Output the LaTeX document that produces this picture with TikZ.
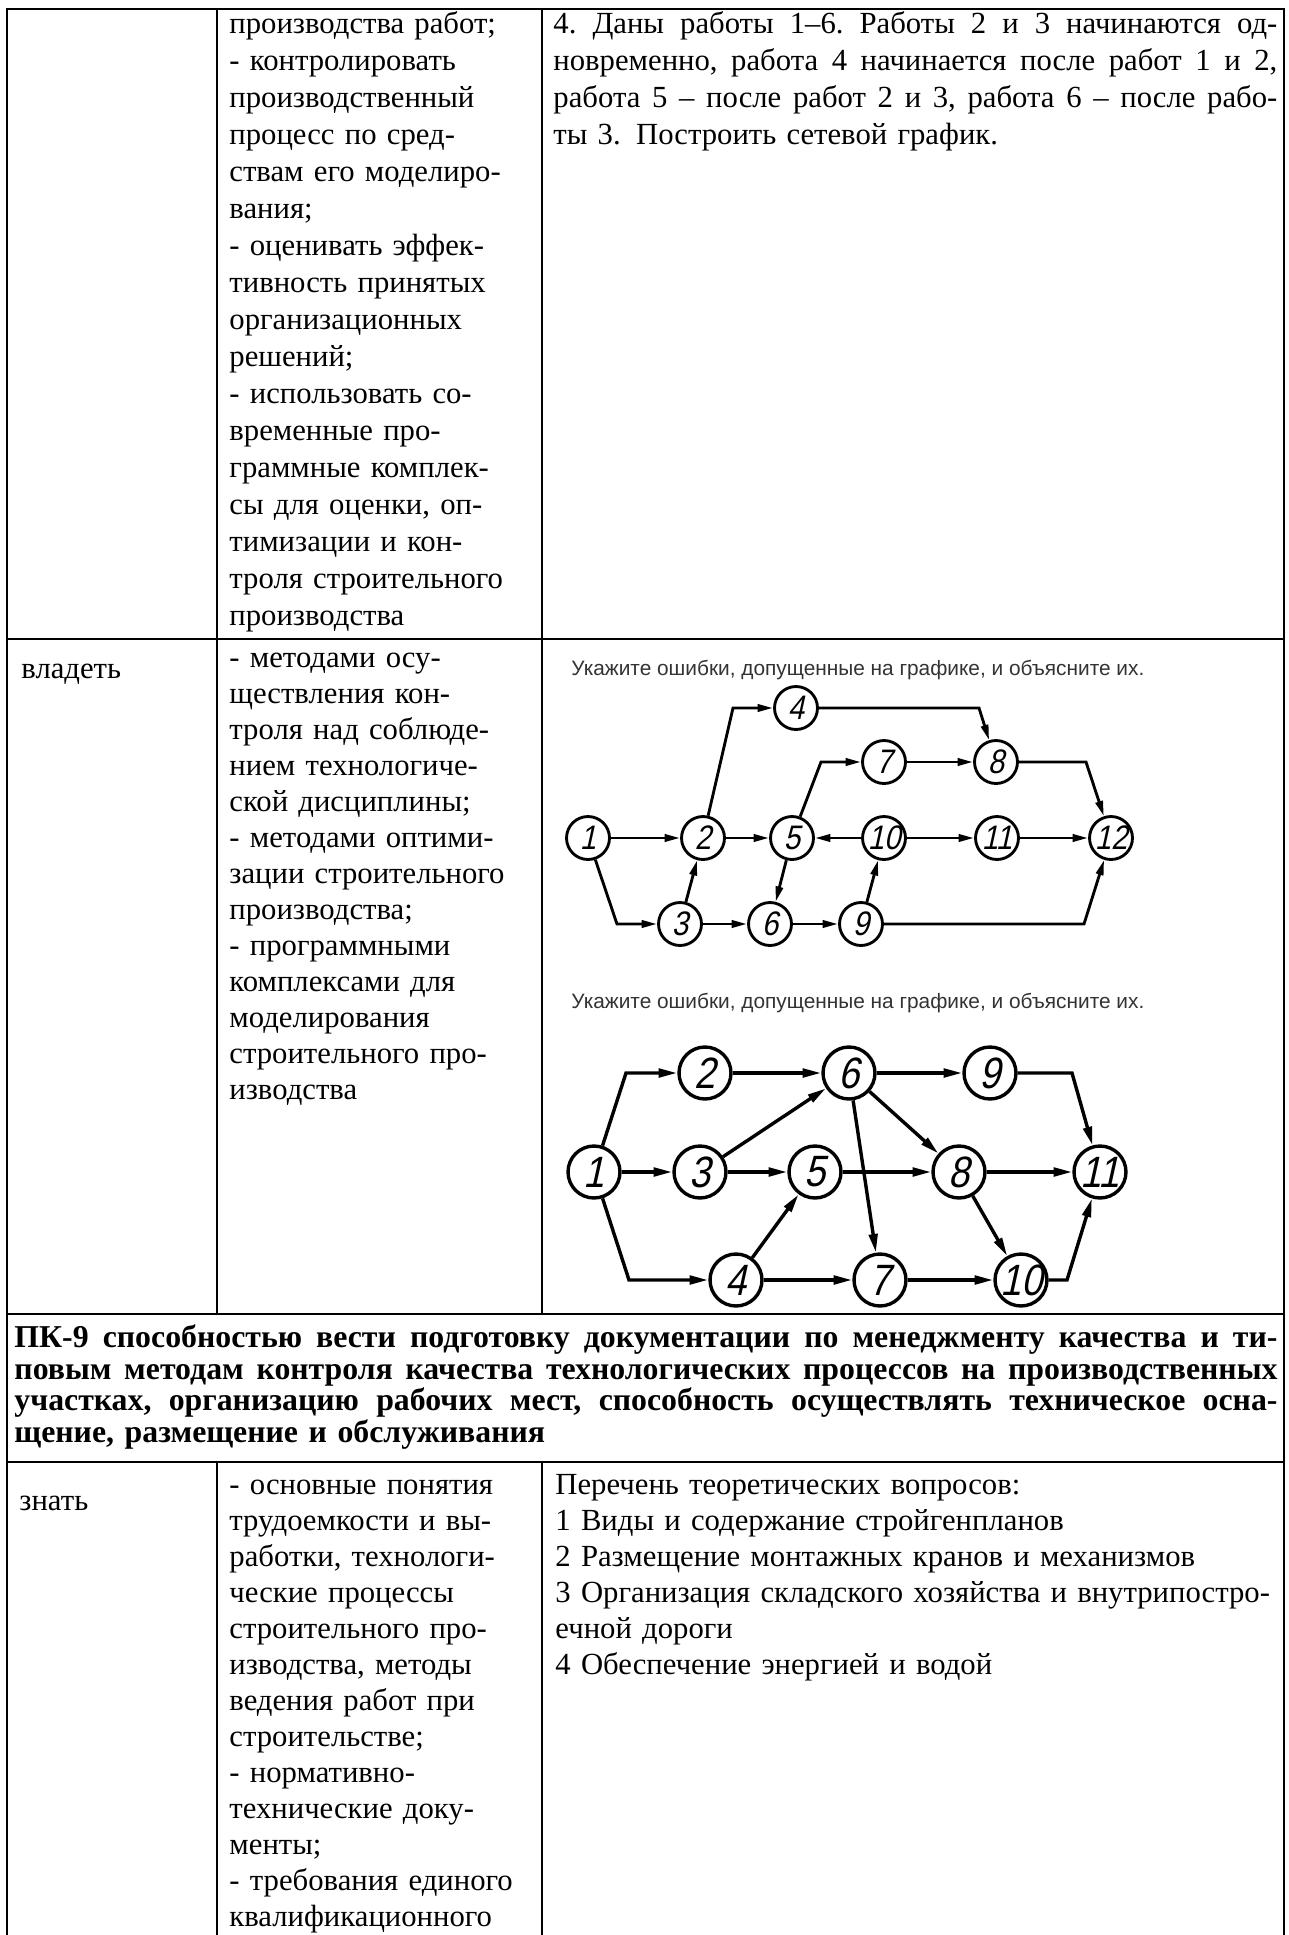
\documentclass[tikz,border=0pt]{standalone}
\usepackage{fontspec}
\setmainfont{Liberation Serif}
\setsansfont{Liberation Sans}
\newfontfamily\gostfont[FakeStretch=0.86,FakeSlant=0.22]{Liberation Sans}
\usetikzlibrary{arrows.meta}
\newcommand{\bodyfont}{\fontsize{14}{16.4}\selectfont}
\newcommand{\bodyfontb}{\fontsize{14}{16.87}\selectfont}
\newcommand{\headfont}{\fontsize{14.5}{14.4}\selectfont\bfseries}
\newcommand{\capfont}{\sffamily\fontsize{9.5}{11}\selectfont}
\newcommand{\gfa}{\gostfont\fontsize{15.5}{15.5}\selectfont}
\newcommand{\gfb}{\gostfont\fontsize{20}{20}\selectfont}
\newcommand{\jline}[2]{\leavevmode\hbox to #1{\frenchspacing\spaceskip=0.25em plus 1fil\relax #2}}
\newcommand{\hstrut}{\rule{0pt}{12pt}}
\hyphenpenalty=10000
\exhyphenpenalty=10000
\begin{document}
\begin{tikzpicture}[x=0.456pt,y=-0.456pt,
  tline/.style={line width=1.25pt, line cap=rect},
  pbody/.style={anchor=north west, inner sep=0pt, align=left, font=\bodyfont, yshift=11.48pt},
  pbodyb/.style={anchor=north west, inner sep=0pt, align=left, font=\bodyfontb, yshift=11.81pt},
  phead/.style={anchor=north west, inner sep=0pt, align=left, font=\headfont, yshift=12pt},
  gcap/.style={anchor=west, inner sep=0pt, font=\capfont, text=black!80},
  ga/.style={circle, draw, line width=1.3pt, minimum size=19.6pt, inner sep=-4pt, font=\gfa},
  gb/.style={circle, draw, line width=1.55pt, minimum size=23.7pt, inner sep=-4pt, font=\gfb},
  ea/.style={line width=1.3pt, -{Triangle[length=7pt,width=3.3pt]}},
  eb/.style={line width=1.55pt, -{Triangle[length=8.5pt,width=3.9pt]}}
]
\useasboundingbox (0,0) rectangle (1288,1935);
\fill[white] (0,0) rectangle (1288,1935);

% ---------- table rules ----------
\draw[tline] (7,9) -- (1284,9);
\draw[tline] (7,639) -- (1284,639);
\draw[tline] (7,1314) -- (1284,1314);
\draw[tline] (7,1462) -- (1284,1462);
\draw[tline] (7,9) -- (7,1935);
\draw[tline] (1284,9) -- (1284,1935);
\draw[tline] (217,9) -- (217,1314);
\draw[tline] (217,1462) -- (217,1935);
\draw[tline] (542,9) -- (542,1314);
\draw[tline] (542,1462) -- (542,1935);

% ---------- row 1 ----------
\node[pbodyb, text width=200pt] (r1b) at (229,33) {\strut производства работ;\\
- контролировать\\
производственный\\
процесс по сред-\\
ствам его моделиро-\\
вания;\\
- оценивать эффек-\\
тивность принятых\\
организационных\\
решений;\\
- использовать со-\\
временные про-\\
граммные комплек-\\
сы для оценки, оп-\\
тимизации и кон-\\
троля строительного\\
производства};

\node[pbodyb, text width=340pt] (r1c) at (553,33) {\strut\jline{330.1pt}{4. Даны работы 1–6. Работы 2 и 3 начинаются од-}\\
\jline{330.1pt}{новременно, работа 4 начинается после работ 1 и 2,}\\
\jline{330.1pt}{работа 5 – после работ 2 и 3, работа 6 – после рабо-}\\
ты 3. Построить сетевой график.};

% ---------- row 2 ----------
\node[pbody, text width=120pt] (r2a) at (21,678) {\strut владеть};
\node[pbody, text width=200pt] (r2b) at (229,667) {\strut - методами осу-\\
ществления кон-\\
троля над соблюде-\\
нием технологиче-\\
ской дисциплины;\\
- методами оптими-\\
зации строительного\\
производства;\\
- программными\\
комплексами для\\
моделирования\\
строительного про-\\
изводства};

\node[gcap] (cap1) at (571,670) {Укажите ошибки, допущенные на графике, и объясните их.};
\node[gcap] (cap2) at (571,1003) {Укажите ошибки, допущенные на графике, и объясните их.};

% ---------- graph 1 ----------
\node[ga] (a1) at (588,838) {1};
\node[ga] (a2) at (703,838) {2};
\node[ga] (a3) at (680,924) {3};
\node[ga] (a4) at (796,708) {4};
\node[ga] (a5) at (792,838) {5};
\node[ga] (a6) at (770,924) {6};
\node[ga] (a7) at (884,762) {7};
\node[ga] (a8) at (996,762) {8};
\node[ga] (a9) at (861,924) {9};
\node[ga] (a10) at (884,838) {10};
\node[ga] (a11) at (997,838) {11};
\node[ga] (a12) at (1111,838) {12};

\coordinate (a13c) at (617,924);
\coordinate (a24c) at (733,708);
\coordinate (a48c) at (979,708);
\coordinate (a57c) at (821,762);
\coordinate (a812c) at (1086,762);
\coordinate (a912c) at (1084,924);

\draw[ea] (a1) -- (a2);
\draw[ea] (a1) -- (a13c) -- (a3);
\draw[ea] (a3) -- (a2);
\draw[ea] (a2) -- (a24c) -- (a4);
\draw[ea] (a4) -- (a48c) -- (a8);
\draw[ea] (a2) -- (a5);
\draw[ea] (a5) -- (a57c) -- (a7);
\draw[ea] (a7) -- (a8);
\draw[ea] (a8) -- (a812c) -- (a12);
\draw[ea] (a10) -- (a5);
\draw[ea] (a10) -- (a11);
\draw[ea] (a11) -- (a12);
\draw[ea] (a5) -- (a6);
\draw[ea] (a3) -- (a6);
\draw[ea] (a6) -- (a9);
\draw[ea] (a9) -- (a10);
\draw[ea] (a9) -- (a912c) -- (a12);

% ---------- graph 2 ----------
\node[gb] (b1) at (594,1172) {1};
\node[gb] (b2) at (705,1073) {2};
\node[gb] (b3) at (700,1172) {3};
\node[gb] (b4) at (736,1280) {4};
\node[gb] (b5) at (815,1172) {5};
\node[gb] (b6) at (849,1073) {6};
\node[gb] (b7) at (880,1280) {7};
\node[gb] (b8) at (959,1172) {8};
\node[gb] (b9) at (990,1073) {9};
\node[gb] (b10) at (1021,1280) {10};
\node[gb] (b11) at (1100,1172) {11};

\coordinate (b12c) at (626,1073);
\coordinate (b14c) at (629,1280);
\coordinate (b911c) at (1072,1073);
\coordinate (b1011c) at (1067,1280);

\draw[eb] (b1) -- (b12c) -- (b2);
\draw[eb] (b2) -- (b6);
\draw[eb] (b6) -- (b9);
\draw[eb] (b9) -- (b911c) -- (b11);
\draw[eb] (b1) -- (b3);
\draw[eb] (b3) -- (b5);
\draw[eb] (b5) -- (b8);
\draw[eb] (b8) -- (b11);
\draw[eb] (b3) -- (b6);
\draw[eb] (b6) -- (b8);
\draw[eb] (b6) -- (b7);
\draw[eb] (b8) -- (b10);
\draw[eb] (b1) -- (b14c) -- (b4);
\draw[eb] (b4) -- (b5);
\draw[eb] (b4) -- (b7);
\draw[eb] (b7) -- (b10);
\draw[eb] (b10) -- (b1011c) -- (b11);

% ---------- header PK-9 ----------
\node[phead, text width=600pt] (hdr) at (14,1347) {\hstrut\jline{576pt}{ПК-9 способностью вести подготовку документации по менеджменту качества и ти-}\\
\jline{576pt}{повым методам контроля качества технологических процессов на производственных}\\
\jline{576pt}{участках, организацию рабочих мест, способность осуществлять техническое осна-}\\
щение, размещение и обслуживания};

% ---------- bottom row ----------
\node[pbody, text width=120pt] (r3a) at (19,1510) {\strut знать};
\node[pbody, text width=200pt] (r3b) at (229,1494) {\strut - основные понятия\\
трудоемкости и вы-\\
работки, технологи-\\
ческие процессы\\
строительного про-\\
изводства, методы\\
ведения работ при\\
строительстве;\\
- нормативно-\\
технические доку-\\
менты;\\
- требования единого\\
квалификационного};
\node[pbody, text width=360pt] (r3c) at (555,1494) {\strut Перечень теоретических вопросов:\\
1 Виды и содержание стройгенпланов\\
2 Размещение монтажных кранов и механизмов\\
3 Организация складского хозяйства и внутрипостро-\\
ечной дороги\\
4 Обеспечение энергией и водой};
\end{tikzpicture}
\end{document}
